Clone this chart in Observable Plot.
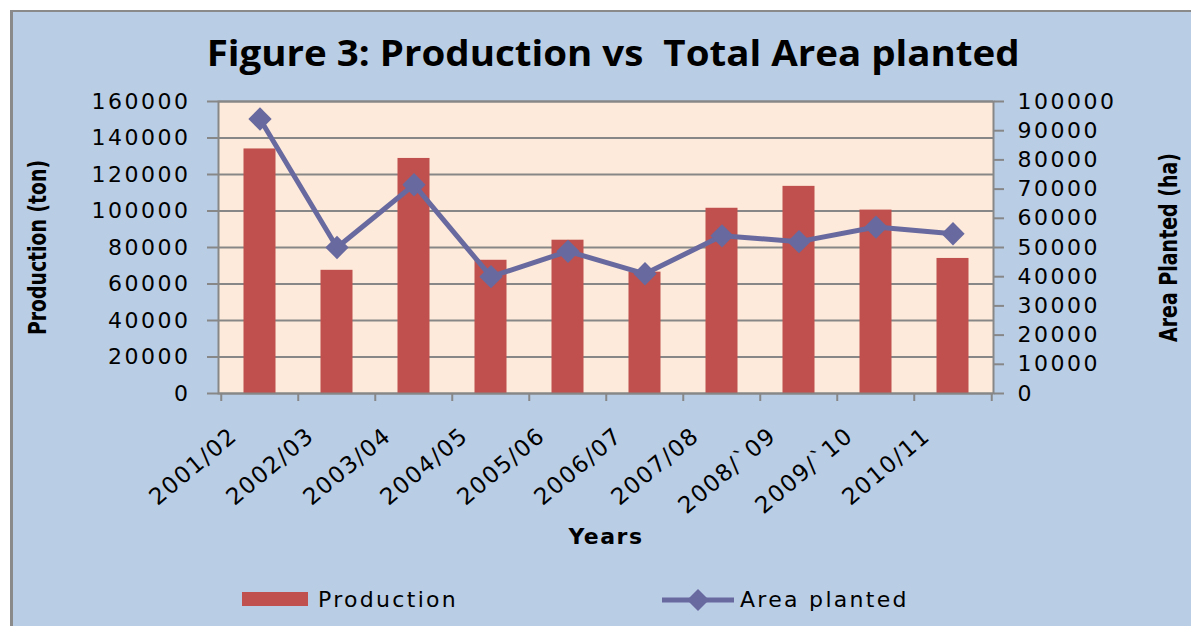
<!DOCTYPE html>
<html><head><meta charset="utf-8">
<script src="https://cdn.jsdelivr.net/npm/d3@7"></script>
<script src="https://cdn.jsdelivr.net/npm/@observablehq/plot@0.6"></script>
<style>
html,body{margin:0;padding:0;background:#fff;width:1191px;height:626px;overflow:hidden;font-family:"DejaVu Sans",sans-serif}
#box{position:absolute;left:10px;top:10px;width:1200px;height:640px;background:#b9cde5;border-left:3px solid #8a8a8a;border-top:2px solid #8a8a8a}
#title{position:absolute;left:0;top:28px;width:1226px;text-align:center;font:bold 36px "Open Sans","DejaVu Sans",sans-serif;color:#000;white-space:pre}
#title span{display:inline-block;transform-origin:center}
#chart{position:absolute;left:0;top:90px}
#legend{position:absolute;left:0;top:585px;width:1191px;height:30px;font:22px "DejaVu Sans",sans-serif;letter-spacing:2.3px;color:#000}
.lg{position:absolute;top:0;line-height:30px}
</style>
</head><body>
<div id="box"></div>
<div id="title"><span id="tspan">Figure 3: Production vs  Total Area planted</span></div>
<div id="chart"></div>
<div id="legend">
  <div class="lg" style="left:242px;top:7px;width:66px;height:14px;background:#c0504d"></div>
  <div class="lg" style="left:318px;">Production</div>
  <svg class="lg" style="left:662px;top:0" width="72" height="30"><line x1="0" x2="72" y1="15" y2="15" stroke="#68699f" stroke-width="5"/><path d="M36,4 L47,15 L36,26 L25,15 Z" fill="#68699f"/></svg>
  <div class="lg" style="left:740px;">Area planted</div>
</div>
<script>
const years = ["2001/02","2002/03","2003/04","2004/05","2005/06","2006/07","2007/08","2008/`09","2009/`10","2010/11"];
const production = [134000, 67500, 128800, 73000, 84000, 66500, 101500, 113500, 100500, 74000];
const area = [94000, 50000, 71500, 40000, 48700, 41000, 54000, 52000, 57000, 54700];
const prodTicks = [0,20000,40000,60000,80000,100000,120000,140000,160000];
const areaTicks = [0,10000,20000,30000,40000,50000,60000,70000,80000,90000,100000];

const W = 1191, H = 475, mL = 218, mR = 198, mT = 11, mB = 172;
const bw = (W - mL - mR) / years.length;
const k = 160000 / 100000;
const data = years.map((y, i) => ({year: y, production: production[i], area: area[i]}));
const grey = "#878787", lineCol = "#68699f";

const chart = Plot.plot({
  width: W, height: H,
  marginLeft: mL, marginRight: mR, marginTop: mT, marginBottom: mB,
  style: {background: "transparent", fontFamily: "DejaVu Sans, sans-serif", fontSize: "22px", color: "#000", overflow: "visible"},
  x: {type: "band", domain: years, padding: 0},
  y: {domain: [0, 160000]},
  marks: [
    Plot.frame({fill: "#fdeada"}),
    Plot.gridY(prodTicks, {stroke: grey, strokeOpacity: 1, strokeWidth: 2}),
    Plot.barY(data, {x: "year", y: "production", fill: "#c0504d", insetLeft: 22.5, insetRight: 22.5}),
    Plot.frame({stroke: grey, strokeWidth: 2}),
    Plot.axisY(prodTicks, {anchor: "left", tickSize: 11, tickPadding: 17, stroke: grey, strokeWidth: 2,
      tickFormat: d => String(d), label: "Production (ton)", labelAnchor: "center", labelArrow: "none", labelOffset: 190}),
    Plot.axisY(areaTicks, {anchor: "right", y: d => d * k, tickSize: 10, tickPadding: 14, stroke: grey, strokeWidth: 2,
      tickFormat: d => String(d), label: "Area Planted (ha)", labelAnchor: "center", labelArrow: "none", labelOffset: 183}),
    Plot.axisX({tickSize: 8, dx: -bw / 2, stroke: grey, strokeWidth: 2, fill: "none", label: null}),
    Plot.axisX([years[years.length - 1]], {tickSize: 8, dx: bw / 2, stroke: grey, strokeWidth: 2, fill: "none", label: null}),
    Plot.axisX({tickSize: 0, tickRotate: -40, tickPadding: 39, dx: -26, label: "Years", labelAnchor: "center", labelArrow: "none", labelOffset: 150}),
    Plot.lineY(data, {x: "year", y: d => d.area * k, stroke: lineCol, strokeWidth: 5}),
    Plot.dot(data, {x: "year", y: d => d.area * k, symbol: "diamond2", r: 10.5, fill: lineCol, stroke: "none"})
  ]
});
document.getElementById("chart").appendChild(chart);

// styling of texts
d3.select(chart).selectAll("text").each(function() {
  const t = this.textContent;
  const s = d3.select(this);
  if (t === "Production (ton)" || t === "Area Planted (ha)") {
    s.attr("font-weight", "bold").attr("font-size", 24)
     .attr("textLength", t === "Production (ton)" ? 175 : 189).attr("lengthAdjust", "spacingAndGlyphs");
  } else if (t === "Years") {
    s.attr("font-weight", "bold").attr("font-size", 22).attr("letter-spacing", "1.5px");
  } else if (/^\d+$/.test(t)) {
    s.attr("letter-spacing", "2.5px");
  } else {
    s.attr("font-size", 23).attr("letter-spacing", "1.5px");
  }
});

// fit title width
const ts = document.getElementById("tspan");
const w = ts.getBoundingClientRect().width;
ts.style.transform = `scaleX(${813 / w})`;
</script>
</body></html>
